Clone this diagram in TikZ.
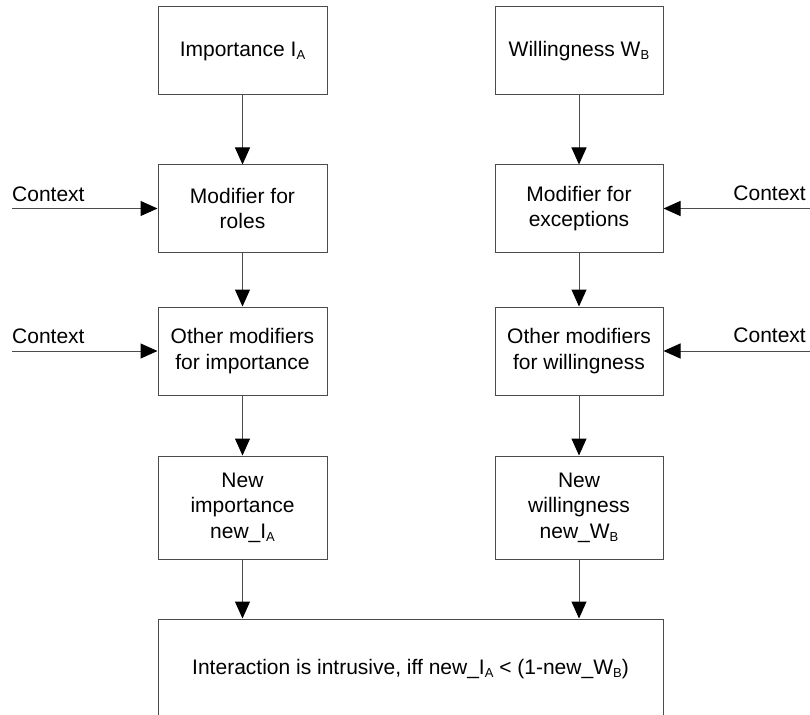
\documentclass[tikz,border=0pt]{standalone}
\usepackage{fontspec}
\setmainfont{Liberation Sans}
\usetikzlibrary{arrows.meta}
\newcommand{\lowsub}[1]{\raisebox{-0.3ex}{\fontsize{13}{13}\selectfont #1}}
\tikzset{
  blockbox/.style={draw=black!70, line width=1pt, inner sep=0pt, align=center,
    font=\fontsize{21}{25.5}\selectfont},
  flow/.style={draw=black!70, line width=1pt,
    -{Triangle[length=17pt,width=15pt,fill=black,color=black]}},
  ctxlabel/.style={font=\fontsize{21}{25.5}\selectfont, inner sep=0pt}
}
\begin{document}
\begin{tikzpicture}[x=1pt,y=-1pt]
\useasboundingbox (0,0) rectangle (810,714);

% left chain: importance
\node[blockbox, minimum width=169pt, minimum height=88pt] (ia) at (242.5,51) {Importance I\lowsub{A}};
\node[blockbox, minimum width=169pt, minimum height=87pt] (roles) at (242.5,208.5) {Modifier for\\roles};
\node[blockbox, minimum width=169pt, minimum height=88pt] (oimp) at (242.5,351) {Other modifiers\\for importance};
\node[blockbox, minimum width=169pt, minimum height=103pt] (nimp) at (242.5,507.5) {New\\importance\\new\_I\lowsub{A}};

% right chain: willingness
\node[blockbox, minimum width=168pt, minimum height=88pt] (wb) at (579,51) {Willingness W\lowsub{B}};
\node[blockbox, minimum width=168pt, minimum height=87pt] (exc) at (579,208.5) {Modifier for\\exceptions};
\node[blockbox, minimum width=168pt, minimum height=88pt] (owil) at (579,351) {Other modifiers\\for willingness};
\node[blockbox, minimum width=168pt, minimum height=103pt] (nwil) at (579,507.5) {New\\willingness\\new\_W\lowsub{B}};

% decision box (runs past the lower edge)
\node[blockbox, minimum width=505pt, minimum height=100pt] (res) at (410.5,669)
  {Interaction is intrusive, iff new\_I\lowsub{A} {<} (1-new\_W\lowsub{B})};

% context inputs
\coordinate (cl1) at (12,208.5);
\coordinate (cl2) at (12,351);
\coordinate (cr1) at (810,208.5);
\coordinate (cr2) at (810,351);
\node[ctxlabel, anchor=base west] (tl1) at (12,201) {Context};
\node[ctxlabel, anchor=base west] (tl2) at (12,343) {Context};
\node[ctxlabel, anchor=base east] (tr1) at (806,200) {Context};
\node[ctxlabel, anchor=base east] (tr2) at (806,342) {Context};

\draw[flow] (cl1) -- (roles.west);
\draw[flow] (cl2) -- (oimp.west);
\draw[flow] (cr1) -- (exc.east);
\draw[flow] (cr2) -- (owil.east);

% vertical flow
\draw[flow] (ia) -- (roles);
\draw[flow] (roles) -- (oimp);
\draw[flow] (oimp) -- (nimp);
\draw[flow] (nimp.south) -- (nimp.south |- res.north);
\draw[flow] (wb) -- (exc);
\draw[flow] (exc) -- (owil);
\draw[flow] (owil) -- (nwil);
\draw[flow] (nwil.south) -- (nwil.south |- res.north);
\end{tikzpicture}
\end{document}
